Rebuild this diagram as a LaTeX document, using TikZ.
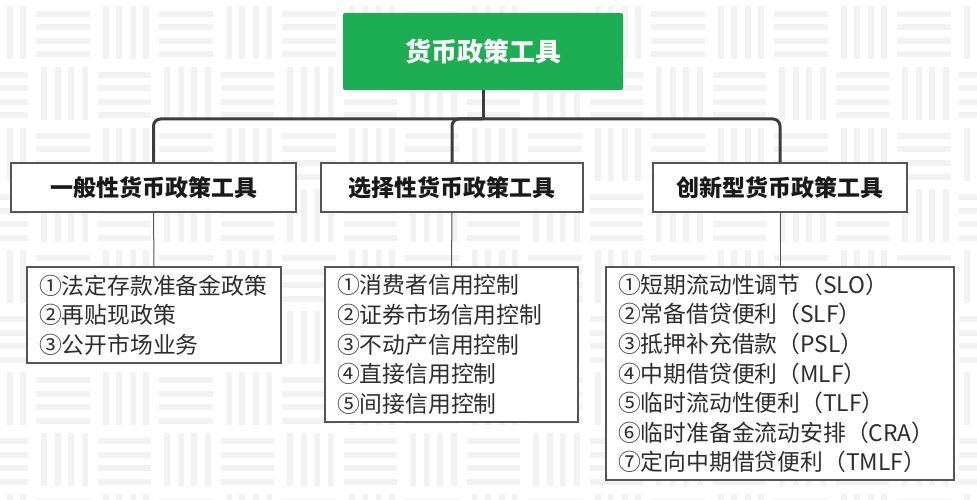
\documentclass[tikz,border=0pt]{standalone}
\usepackage{fontspec}
\setmainfont{Noto Sans CJK SC}
\usetikzlibrary{positioning}
\definecolor{rootgreen}{RGB}{29,174,84}
\definecolor{linegray}{RGB}{60,60,60}
\definecolor{boxgray}{RGB}{85,85,85}
\definecolor{textgray}{RGB}{45,45,45}
\definecolor{weave}{RGB}{242,242,242}

\begin{document}
\begin{tikzpicture}[x=1pt, y=-1pt,
  root/.style = {shape=rectangle, rounded corners=2pt, fill=rootgreen,
    text=white, font=\fontsize{26}{30}\selectfont\bfseries,
    minimum width=280pt, minimum height=77pt},
  kind/.style = {shape=rectangle, draw=boxgray, line width=1.8pt, fill=white,
    text=black!90, font=\fontsize{23}{26}\selectfont\bfseries,
    minimum height=49pt},
  list/.style = {shape=rectangle, draw=boxgray, line width=1.2pt, fill=white,
    text=textgray, align=left, inner xsep=12pt, inner ysep=0pt,
    font=\fontsize{22.8}{29.6}\selectfont},
  trunk/.style = {draw=linegray, line width=3pt, rounded corners=7pt},
  twig/.style = {draw=boxgray, line width=1pt}]
  \useasboundingbox (0,0) rectangle (977,500);
  \fill[white] (0,0) rectangle (977,500);

  \begin{scope}
    \clip (0,0) rectangle (977,500);
    \foreach \i in {-1,...,15} \foreach \j in {0,...,8} {
      \pgfmathsetmacro\cx{32+61.5*\i}
      \pgfmathsetmacro\cy{2+61*\j}
      \pgfmathtruncatemacro\odd{mod(\i+\j+20,2)}
      \ifnum\odd=0
        \foreach \k in {0,...,3}
          \fill[weave] (\cx+4, \cy+9+13.5*\k) rectangle ++(53.5,6);
      \else
        \foreach \k in {0,...,3}
          \fill[weave] (\cx+9+13.5*\k, \cy+4) rectangle ++(6,53);
      \fi
    }
  \end{scope}

  \node[root] (top) at (483,51.5) {货币政策工具};

  \node[kind, minimum width=285pt] (gen) at (153.5,187.5) {一般性货币政策工具};
  \node[kind, minimum width=262pt] (sel) at (452,187.5) {选择性货币政策工具};
  \node[kind, minimum width=254pt] (inn) at (780,187.5) {创新型货币政策工具};

  \node[list, text width=230pt, minimum height=96pt] (genlist) at (154,315)
    {①法定存款准备金政策\\②再贴现政策\\③公开市场业务};
  \node[list, text width=229pt, minimum height=155pt] (sellist) at (451.5,344.5)
    {①消费者信用控制\\②证券市场信用控制\\③不动产信用控制\\④直接信用控制\\⑤间接信用控制};
  \node[list, text width=324pt, minimum height=213pt] (innlist) at (780,373.5)
    {①短期流动性调节（SLO）\\②常备借贷便利（SLF）\\③抵押补充借款（PSL）\\④中期借贷便利（MLF）\\⑤临时流动性便利（TLF）\\⑥临时准备金流动安排（CRA）\\⑦定向中期借贷便利（TMLF）};

  \coordinate (bar) at (483,119);
  \draw[trunk] (top.south) -- (bar);
  \draw[trunk] (gen.north) |- (bar) -| (inn.north);
  \draw[trunk] (sel.north) |- (bar);

  \draw[twig] (gen.south) -- (genlist.north);
  \draw[twig] (sel.south) -- (sellist.north);
  \draw[twig] (inn.south) -- (innlist.north);
\end{tikzpicture}
\end{document}
